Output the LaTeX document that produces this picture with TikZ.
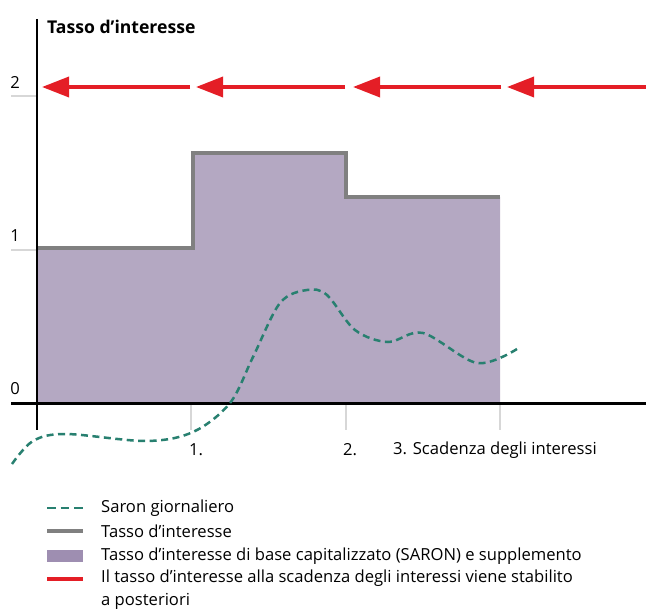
\documentclass[tikz,border=0pt]{standalone}
\usepackage{fontspec}
\setmainfont{Open Sans}
\usetikzlibrary{arrows.meta}

\definecolor{saron}{RGB}{40,128,112}
\definecolor{rategray}{RGB}{128,128,128}
\definecolor{capfill}{RGB}{180,168,194}
\definecolor{capkey}{RGB}{158,142,177}
\definecolor{fixred}{RGB}{228,30,38}
\definecolor{ticklight}{RGB}{215,215,215}

\tikzset{
  redarrow/.style={fixred,line width=3.5pt,-{Triangle[length=27pt,width=20pt]}},
  saronline/.style={saron,line width=2.5pt,dash pattern=on 7pt off 4.5pt},
  rateline/.style={rategray,line width=4pt},
  axisline/.style={black,line width=2.5pt},
  tickline/.style={ticklight,line width=1.5pt},
  lbl/.style={font=\fontsize{16.6}{19}\selectfont,inner sep=0pt},
  keylbl/.style={font=\fontsize{16.6}{23}\selectfont,inner sep=0pt,anchor=west},
}

\begin{document}
\begin{tikzpicture}[x=1pt,y=-1pt]
\useasboundingbox (0,0) rectangle (646,610);

% capitalised rate
\fill[capfill] (37,403) -- (37,248) -- (193,248) -- (193,153) -- (346,153)
  -- (346,197) -- (500,197) -- (500,403) -- cycle;
\draw[rateline] (37,248) -- (193,248) -- (193,153) -- (346,153) -- (346,197) -- (500,197);

% ticks
\draw[tickline] (11,96) -- (37,96);
\draw[tickline] (11,250) -- (37,250);
\draw[tickline] (191,403) -- (191,430);
\draw[tickline] (346,403) -- (346,430);
\draw[tickline] (500,403) -- (500,430);

% axes
\draw[axisline] (37,19) -- (37,430);
\draw[axisline] (11,403.5) -- (646,403.5);

% daily saron
\draw[saronline] plot[smooth,tension=0.55] coordinates {(12,464) (33,441) (66,434)
  (146,441) (193,432) (230,403) (253,357) (280,303) (307,290) (327,295)
  (355,330) (388,342) (423,333) (477,363) (517,349)};

% fixing arrows
\coordinate (a0) at (42,87);  \coordinate (a1) at (190,87);
\coordinate (b0) at (196,87); \coordinate (b1) at (345,87);
\coordinate (c0) at (353,87); \coordinate (c1) at (501,87);
\coordinate (d0) at (507,87); \coordinate (d1) at (646,87);
\draw[redarrow] (a1) -- (a0);
\draw[redarrow] (b1) -- (b0);
\draw[redarrow] (c1) -- (c0);
\draw[redarrow] (d1) -- (d0);

% labels
\node[lbl,anchor=west,font=\fontsize{17.6}{20}\selectfont\bfseries] (title) at (47,27) {Tasso d’interesse};
\node[lbl] (y2) at (15,82) {2};
\node[lbl] (y1) at (15,236) {1};
\node[lbl] (y0) at (15,389) {0};
\node[lbl] (x1) at (196,450) {1.};
\node[lbl] (x2) at (350,450) {2.};
\node[lbl,anchor=west] (x3) at (393,450) {3. Scadenza degli interessi};

% legend
\coordinate (k1) at (47,508);  \coordinate (k1e) at (83,508);
\coordinate (k2) at (47,531);  \coordinate (k2e) at (83,531);
\coordinate (k4) at (47,579);  \coordinate (k4e) at (83,579);
\draw[saronline,dash pattern=on 8.5pt off 5pt] (k1) -- (k1e);
\draw[rateline] (k2) -- (k2e);
\fill[capkey] (47,550) rectangle (83,562);
\draw[fixred,line width=4pt] (k4) -- (k4e);
\node[keylbl] (l1) at (101,508) {Saron giornaliero};
\node[keylbl] (l2) at (101,531) {Tasso d’interesse};
\node[keylbl] (l3) at (101,556) {Tasso d’interesse di base capitalizzato (SARON) e supplemento};
\node[keylbl,anchor=north west,align=left] (l4) at (101,570) {Il tasso d’interesse alla scadenza degli interessi viene stabilito\\a posteriori};
\end{tikzpicture}
\end{document}
